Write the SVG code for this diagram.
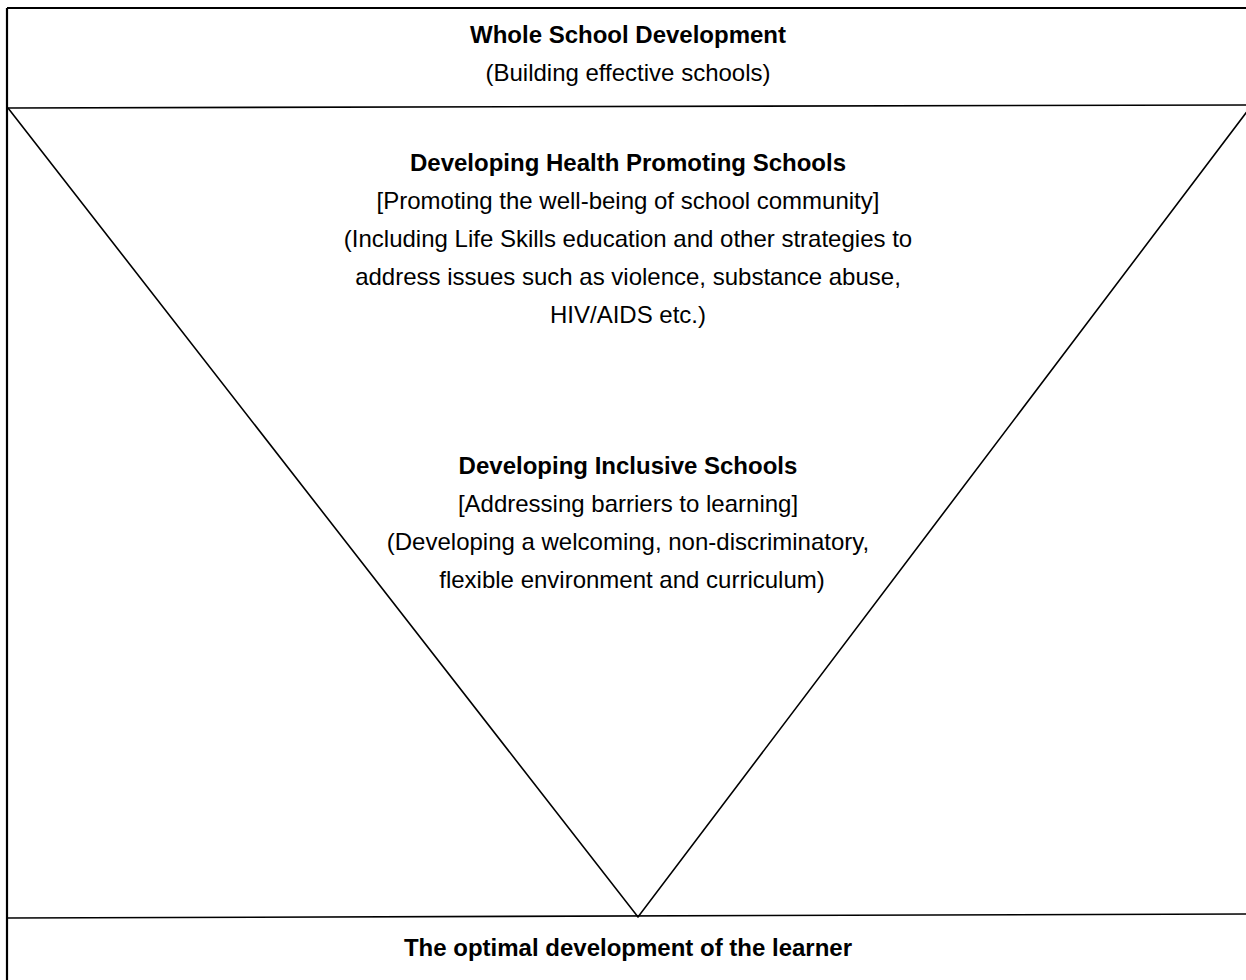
<svg xmlns="http://www.w3.org/2000/svg" width="1246" height="980" viewBox="0 0 1246 980">
<style>
text{font-family:"Liberation Sans",Arial,sans-serif;font-size:24px;fill:#000;text-anchor:middle}
.b{font-weight:bold}
.ln{stroke:#000;stroke-width:1.6;fill:none}
.bd{stroke:#000;stroke-width:2.2;fill:none}
</style>
<rect width="1246" height="980" fill="#fff"/>
<g id="connectors">
<path class="bd" d="M7,8 H1246 M7,8 V980"/>
<path class="ln" d="M7,108 L1246,105"/>
<path class="ln" d="M7,918 L1246,914"/>
<path class="ln" d="M8,108 L638,917 L1252,105"/>
</g>
<g id="whole-school">
<text class="b" x="628" y="43">Whole School Development</text>
<text x="628" y="81">(Building effective schools)</text>
</g>
<g id="health-promoting">
<text class="b" x="628" y="171">Developing Health Promoting Schools</text>
<text x="628" y="209">[Promoting the well-being of school community]</text>
<text x="628" y="247">(Including Life Skills education and other strategies to</text>
<text x="628" y="285">address issues such as violence, substance abuse,</text>
<text x="628" y="323">HIV/AIDS etc.)</text>
</g>
<g id="inclusive">
<text class="b" x="628" y="474">Developing Inclusive Schools</text>
<text x="628" y="512">[Addressing barriers to learning]</text>
<text x="628" y="550">(Developing a welcoming, non-discriminatory,</text>
<text x="632" y="588">flexible environment and curriculum)</text>
</g>
<g id="learner">
<text class="b" x="628" y="956">The optimal development of the learner</text>
</g>
</svg>
